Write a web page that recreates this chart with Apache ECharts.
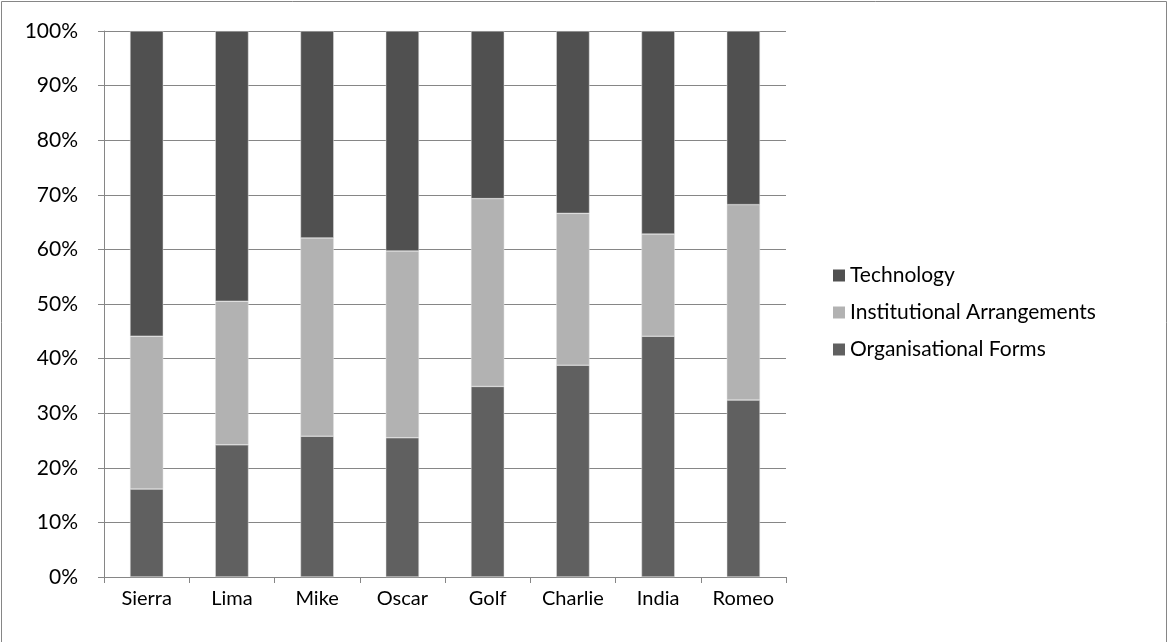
<!DOCTYPE html>
<html>
<head>
<meta charset="utf-8">
<script src="https://cdn.jsdelivr.net/npm/echarts@6/dist/echarts.min.js"></script>
<style>
  html, body { margin: 0; padding: 0; background: #fff; }
  #main { width: 1168px; height: 642px; }
</style>
</head>
<body>
<div id="main"></div>
<script>
var categories = ['Sierra', 'Lima', 'Mike', 'Oscar', 'Golf', 'Charlie', 'India', 'Romeo'];
var organisational = [16.1, 24.2, 25.8, 25.5, 34.9, 38.8, 44.1, 32.4];
var institutional = [28.0, 26.3, 36.3, 34.2, 34.4, 27.8, 18.7, 35.8];
var technology = [55.9, 49.5, 37.9, 40.3, 30.7, 33.4, 37.2, 31.8];

var dom = document.getElementById('main');
var myChart = echarts.init(dom, null, { renderer: 'canvas' });

var font = 'Lato, Open Sans, sans-serif';
var axisGrey = '#868686';

var option = {
    animation: false,
    textStyle: { fontFamily: font },
    graphic: [{
        type: 'rect',
        shape: { x: 1.5, y: 1.5, width: 1165, height: 660 },
        style: { fill: 'none', stroke: axisGrey, lineWidth: 1 },
        silent: true
    }],
    grid: { left: 104, right: 382, top: 31, bottom: 65 },
    legend: {
        orient: 'vertical',
        left: 828,
        top: 260,
        itemWidth: 12,
        itemHeight: 12,
        itemGap: 16,
        icon: 'rect',
        itemStyle: { borderWidth: 0 },
        textStyle: { fontSize: 21, lineHeight: 21, color: '#000', fontFamily: font },
        data: ['Technology', 'Institutional Arrangements', 'Organisational Forms']
    },
    xAxis: {
        type: 'category',
        data: categories,
        axisLine: { lineStyle: { color: axisGrey, width: 1 } },
        axisTick: { show: true, length: 6, lineStyle: { color: axisGrey } },
        axisLabel: { color: '#000', fontSize: 20, margin: 12 }
    },
    yAxis: {
        type: 'value',
        min: 0,
        max: 100,
        interval: 10,
        axisLine: { show: true, lineStyle: { color: axisGrey, width: 1 } },
        axisTick: { show: true, length: 6, inside: false, lineStyle: { color: axisGrey } },
        splitLine: { lineStyle: { color: axisGrey, width: 1 } },
        axisLabel: { color: '#000', fontSize: 21, margin: 26, formatter: '{value}%' }
    },
    series: [
        {
            name: 'Organisational Forms',
            type: 'bar',
            stack: 'total',
            barWidth: '39%',
            itemStyle: { color: '#606060', borderColor: '#e0e0e0', borderWidth: 0.5 },
            data: organisational
        },
        {
            name: 'Institutional Arrangements',
            type: 'bar',
            stack: 'total',
            itemStyle: { color: '#b2b2b2', borderColor: '#e0e0e0', borderWidth: 0.5 },
            data: institutional
        },
        {
            name: 'Technology',
            type: 'bar',
            stack: 'total',
            itemStyle: { color: '#505050', borderColor: '#e0e0e0', borderWidth: 0.5 },
            data: technology
        }
    ]
};

myChart.setOption(option);
window.addEventListener('resize', myChart.resize);
</script>
</body>
</html>
